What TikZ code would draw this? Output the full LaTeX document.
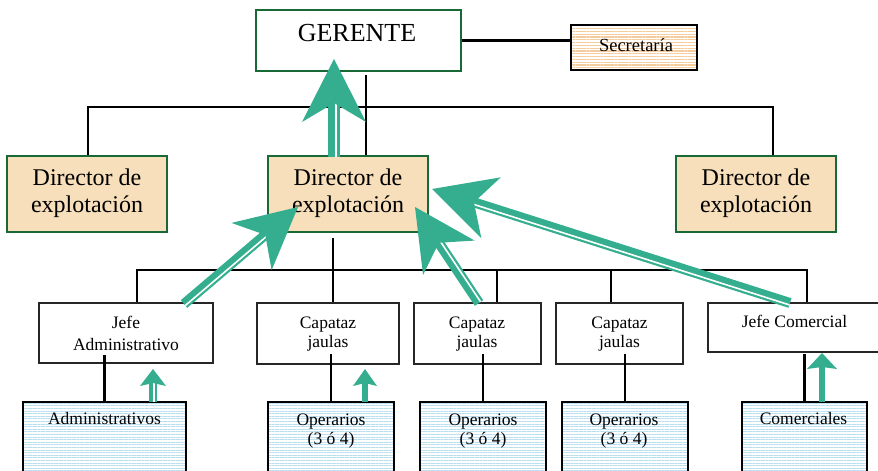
\documentclass[tikz,border=0pt]{standalone}
\usepackage{fontspec}
\setmainfont{Liberation Serif}
\usetikzlibrary{calc,patterns.meta}

\definecolor{flechaverde}{RGB}{52,174,142}
\definecolor{verdeoscuro}{RGB}{25,105,55}
\definecolor{trigo}{RGB}{246,223,186}
\definecolor{naranja}{RGB}{244,204,158}
\definecolor{celeste}{RGB}{185,222,240}

% Thick arrow with a notched head and an optional white gap along the shaft
% #1 tail, #2 tip, #3 head length, #4 head half-width, #5 notch depth from the tip,
% #6 shaft width, #7 gap width (0pt = solid), #8 gap offset, #9 side of the gap (90/-90)
\newcommand\flechagruesa[9]{%
  \coordinate (fb) at ($(#2)!#3!(#1)$);
  \coordinate (fn) at ($(#2)!#5!(#1)$);
  \draw[draw=flechaverde, line width=#6] (#1) -- (fn);
  \ifdim#7>0pt
    \coordinate (g1) at ($(#1)!#8!#9:(fn)$);
    \coordinate (g2) at ($(g1)+(fn)-(#1)$);
    \draw[white, line width=#7] (g1) -- (g2);
  \fi
  \fill[flechaverde] (#2) -- ($(fb)!#4!90:(#2)$) -- (fn) -- ($(fb)!#4!-90:(#2)$) -- cycle;
}

\begin{document}
\begin{tikzpicture}[x=1pt, y=-1pt,
  caja/.style n args={2}{minimum width=#1pt, minimum height=#2pt, inner sep=0pt},
  conn/.style={draw=black, line width=2.2pt},
  gerbox/.style={draw=verdeoscuro, line width=1.3pt, fill=white},
  dirbox/.style={draw=verdeoscuro, line width=1.6pt, fill=trigo},
  jefebox/.style={draw=black!85, line width=1.6pt, fill=white},
  secbox/.style={draw=black, line width=2.2pt,
    pattern={Lines[angle=0, distance=2.8pt, line width=1.1pt]}, pattern color=naranja},
  opbox/.style={draw=black, line width=2.2pt,
    pattern={Lines[angle=0, distance=2.6pt, line width=1pt]}, pattern color=celeste},
  txt/.style={inner sep=0pt, anchor=base},
  tgrande/.style={txt, font=\fontsize{26}{30}\selectfont},
  tdir/.style={txt, font=\fontsize{24}{28}\selectfont},
  tsec/.style={txt, font=\fontsize{18.5}{22}\selectfont},
  tpeq/.style={txt, font=\fontsize{17.5}{20}\selectfont}]

\useasboundingbox (0,0) rectangle (878,471);
\clip (0,0) rectangle (878,471);

% ---- boxes ----
\node[caja={205}{61}, gerbox] (ger) at (358.5,40.5) {};
\node[caja={126}{45}, secbox] (sec) at (634,47.5) {};

\node[caja={160}{76}, dirbox] (dirL) at (87,194) {};
\node[caja={160}{76}, dirbox] (dirM) at (348,194) {};
\node[caja={160}{76}, dirbox] (dirR) at (756,194) {};

\node[caja={174}{60}, jefebox] (jadm) at (126,333) {};
\node[caja={142}{61}, jefebox] (cap1) at (328,333.5) {};
\node[caja={127}{61}, jefebox] (cap2) at (477.5,333.5) {};
\node[caja={127}{61}, jefebox] (cap3) at (619.5,333.5) {};
\node[caja={174}{49}, jefebox] (jcom) at (795,327.5) {};

\node[caja={163}{88}, opbox] (adm) at (104.5,446) {};
\node[caja={126}{88}, opbox] (op1) at (331,446) {};
\node[caja={126}{88}, opbox] (op2) at (483,446) {};
\node[caja={126}{88}, opbox] (op3) at (625,446) {};
\node[caja={125}{88}, opbox] (com) at (804.5,446) {};

% ---- connectors ----
\draw[conn] (ger.east) -- (ger.east -| sec.west);

\coordinate (gbaja) at ([xshift=7.5pt, yshift=-3pt]ger.south);
\draw[conn] (gbaja) -- (gbaja |- dirM.north);

\coordinate (bus1) at (366,107);
\draw[conn] ([xshift=1pt]dirL.north) |- (bus1) -| ([xshift=17pt]dirR.north);

\coordinate (dbaja) at ([xshift=-15pt, yshift=-5pt]dirM.south);
\coordinate (bus2) at (333,270);
\draw[conn] (dbaja) -- (bus2);
\draw[conn] ([xshift=11pt]jadm.north) |- (bus2) -| ([xshift=12pt]jcom.north);
\coordinate (c1) at ([xshift=5pt]cap1.north);
\coordinate (c2) at ([xshift=19.5pt]cap2.north);
\coordinate (c3) at ([xshift=-8.5pt]cap3.north);
\draw[conn] (c1) -- (c1 |- bus2);
\draw[conn] (c2) -- (c2 |- bus2);
\draw[conn] (c3) -- (c3 |- bus2);

\draw[conn] (adm.north) -- ++(0,-47);
\draw[conn] (op1.north) -- ++(0,-47);
\draw[conn] (op2.north) -- ++(0,-47);
\draw[conn] (op3.north) -- ++(0,-47);
\draw[conn] (com.north) -- ++(0,-47);

% ---- texts ----
\node[tgrande] (tger) at (357,41) {GERENTE};
\node[tsec] (tsecr) at (636,51) {Secretaría};

\node[tdir] (tdL1) at (87,185) {Director de};
\node[tdir] (tdL2) at (87,212) {explotación};
\node[tdir] (tdM1) at (348,185) {Director de};
\node[tdir] (tdM2) at (348,212) {explotación};
\node[tdir] (tdR1) at (756,185) {Director de};
\node[tdir] (tdR2) at (756,212) {explotación};

\node[tpeq] (tja1) at (126,328) {Jefe};
\node[tpeq] (tja2) at (126,350) {Administrativo};
\node[tpeq] (tc11) at (328,328) {Capataz};
\node[tpeq] (tc12) at (328,347) {jaulas};
\node[tpeq] (tc21) at (477,328) {Capataz};
\node[tpeq] (tc22) at (477,347) {jaulas};
\node[tpeq] (tc31) at (619.5,328) {Capataz};
\node[tpeq] (tc32) at (619.5,347) {jaulas};
\node[tpeq] (tjc) at (794.5,327) {Jefe Comercial};

\node[tpeq] (tadm) at (104.5,424) {Administrativos};
\node[tpeq] (to11) at (331,425) {Operarios};
\node[tpeq] (to12) at (331,444) {(3 ó 4)};
\node[tpeq] (to21) at (483,425) {Operarios};
\node[tpeq] (to22) at (483,444) {(3 ó 4)};
\node[tpeq] (to31) at (624,425) {Operarios};
\node[tpeq] (to32) at (624,444) {(3 ó 4)};
\node[tpeq] (tcom) at (803.5,424) {Comerciales};

% ---- green arrows ----
\coordinate (a1t) at (334,157);  \coordinate (a1p) at (334,59);
\coordinate (a2t) at (184,304);  \coordinate (a2p) at (298,207);
\coordinate (a3t) at (479,303);  \coordinate (a3p) at (415,207);
\coordinate (a4t) at (790,303);  \coordinate (a4p) at (432,189);
\coordinate (a5t) at (153,402);  \coordinate (a5p) at (153,369);
\coordinate (a6t) at (365,402);  \coordinate (a6p) at (365,369);
\coordinate (a7t) at (822,402);  \coordinate (a7p) at (822,353);

\flechagruesa{a1t}{a1p}{63pt}{32pt}{44pt}{12pt}{2pt}{2pt}{-90}
\flechagruesa{a2t}{a2p}{61pt}{31pt}{43pt}{10pt}{1.6pt}{2pt}{-90}
\flechagruesa{a3t}{a3p}{61pt}{31pt}{43pt}{10pt}{1.6pt}{2pt}{-90}
\flechagruesa{a4t}{a4p}{62pt}{32pt}{44pt}{10pt}{1.6pt}{2pt}{90}
\flechagruesa{a5t}{a5p}{17pt}{13pt}{14pt}{7.5pt}{1.5pt}{1.2pt}{-90}
\flechagruesa{a6t}{a6p}{17pt}{12pt}{14pt}{6.5pt}{0pt}{0pt}{90}
\flechagruesa{a7t}{a7p}{16pt}{15pt}{14pt}{5.5pt}{0pt}{0pt}{90}

\end{tikzpicture}
\end{document}
